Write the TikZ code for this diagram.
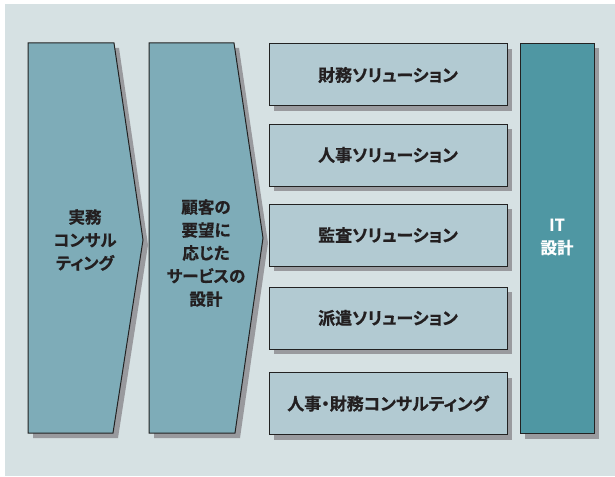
\documentclass[tikz,border=0pt]{standalone}
\usepackage{fontspec}
\setmainfont{Noto Sans CJK JP}[BoldFont={Noto Sans CJK JP Bold}, BoldFeatures={FakeBold=0.8}, RawFeature=+palt]
\usetikzlibrary{shadows}
\definecolor{bgc}{HTML}{D6E1E3}
\definecolor{arrowc}{HTML}{7EACB8}
\definecolor{boxc}{HTML}{B2CAD2}
\definecolor{itc}{HTML}{4F97A3}
\definecolor{shadc}{HTML}{999A9E}
\definecolor{edgec}{HTML}{222222}
\definecolor{txtc}{HTML}{231F20}
\tikzset{
  shp/.style={fill=arrowc, draw=edgec, line width=1pt, line join=miter},
  shd/.style={fill=shadc},
  lbl/.style={text=txtc, font=\bfseries\fontsize{16.5}{23}\selectfont, align=center, inner sep=0pt},
  solbox/.style={rectangle, fill=boxc, draw=edgec, line width=1pt, minimum width=238pt, minimum height=62pt, inner sep=0pt,
     text=txtc, font=\bfseries\fontsize{17}{18}\selectfont,
     drop shadow={shadow xshift=5pt, shadow yshift=-5pt, fill=shadc, opacity=1}},
  itbox/.style={rectangle, fill=itc, draw=edgec, line width=1pt, minimum width=74pt, minimum height=390pt, inner sep=0pt,
     drop shadow={shadow xshift=5pt, shadow yshift=-5pt, fill=shadc, opacity=1}},
}
\begin{document}
\begin{tikzpicture}[x=1pt,y=-1pt]
\useasboundingbox (0,0) rectangle (615,476);
\fill[bgc] (5,4) rectangle (615,476);
% chevron 1
\fill[shd] (33,48) -- (119,48) -- (148,245) -- (118,438) -- (33,438) -- cycle;
\draw[shp] (28,43) -- (114,43) -- (143,240) -- (113,433) -- (28,433) -- cycle;
\node[lbl] (c1) at (85,240) {実務\\コンサル\\ティング};
% chevron 2
\fill[shd] (154,48) -- (239,48) -- (268,243) -- (240,438) -- (154,438) -- cycle;
\draw[shp] (149,43) -- (234,43) -- (263,238) -- (235,433) -- (149,433) -- cycle;
\node[lbl] (c2) at (206,253) {顧客の\\要望に\\応じた\\サービスの\\設計};
% solution boxes
\node[solbox] (s1) at (388,75) {財務ソリューション};
\node[solbox] (s2) at (388,155) {人事ソリューション};
\node[solbox] (s3) at (388,235) {監査ソリューション};
\node[solbox] (s4) at (388,318) {派遣ソリューション};
\node[solbox] (s5) at (388,403.5) {人事・財務コンサルティング};
% IT box
\node[itbox] (it) at (557,238.5) {};
\node[lbl, text=white] (itl) at (557,237) {IT\\設計};
\end{tikzpicture}
\end{document}
